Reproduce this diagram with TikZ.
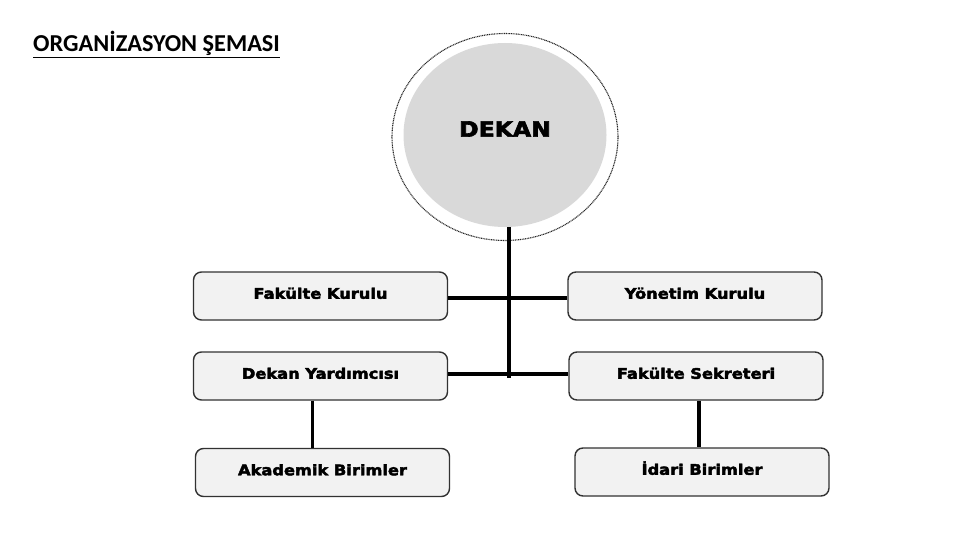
\documentclass[tikz,border=0pt]{standalone}
\usepackage{fontspec}
\usepackage{xcolor}
\usetikzlibrary{positioning, shapes.geometric}
\setmainfont{Carlito}
\newfontfamily\boxfont[FakeStretch=1.12,FakeBold=3]{DejaVu Sans Bold}
\definecolor{circlegray}{RGB}{217,217,217}
\definecolor{boxgray}{RGB}{242,242,242}
\definecolor{edgegray}{RGB}{50,50,50}

\begin{document}
\begin{tikzpicture}[
    x=1pt, y=-1pt,
    unit/.style={
        rectangle,
        rounded corners=8pt,
        draw=edgegray,
        line width=1.4pt,
        fill=boxgray,
        minimum width=254pt,
        minimum height=48pt,
        inner sep=0pt,
        text height=10pt,
        text depth=4.5pt,
        font=\boxfont\fontsize{14.5}{16}\selectfont
    },
    head/.style={
        ellipse,
        fill=circlegray,
        minimum width=203pt,
        minimum height=184pt,
        inner sep=0pt,
        font=\boxfont\fontsize{21}{23}\selectfont
    },
    ring/.style={
        ellipse,
        draw=black!85,
        dash pattern=on 1pt off 0.7pt,
        line width=1.1pt,
        minimum width=226pt,
        minimum height=207pt,
        inner sep=0pt
    },
    link/.style={line width=3.6pt, draw=black}
]
\useasboundingbox (0,0) rectangle (960,540);

\node[anchor=base west, font=\bfseries\fontsize{24.3}{27}\selectfont, inner sep=0pt] (title) at (33,52) {\underline{ORGANİZASYON ŞEMASI}};

\node[ring] (dekanring) at (505,137) {};
\node[head] (dekan) at (505,135) {\raisebox{12pt}{DEKAN}};

\node[unit] (fakkurul) at (320.5,296) {Fakülte Kurulu};
\node[unit] (yonkurul) at (695,296) {Yönetim Kurulu};
\node[unit] (yardimci) at (320.5,376) {Dekan Yardımcısı};
\node[unit] (sekreter) at (696,376) {Fakülte Sekreteri};
\node[unit] (akademik) at (322.5,472.5) {Akademik Birimler};
\node[unit] (idari) at (702,472) {İdari Birimler};

\coordinate (hub) at (509,378);

\draw[link] (hub |- dekan.south) -- (hub);
\draw[link] ([yshift=-2]fakkurul.east) -- ([yshift=-2]yonkurul.west);
\draw[link] ([yshift=2]yardimci.east) -- ([yshift=2]sekreter.west);
\draw[link] ([xshift=-8]yardimci.south) -- ([xshift=-8]yardimci.south |- akademik.north);
\draw[link] ([xshift=3]sekreter.south) -- ([xshift=3]sekreter.south |- idari.north);

\end{tikzpicture}
\end{document}
